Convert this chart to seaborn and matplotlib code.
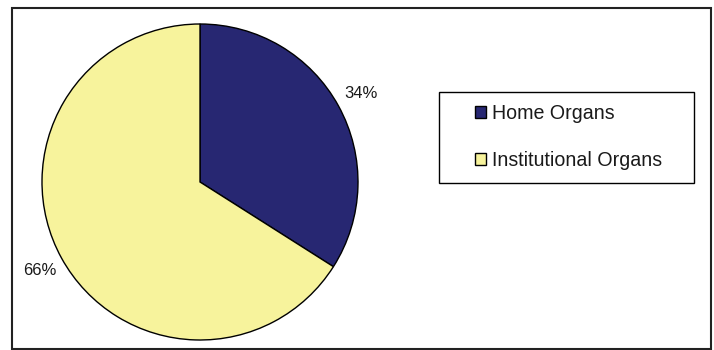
import matplotlib
matplotlib.use("Agg")
import matplotlib.pyplot as plt
from matplotlib.patches import Rectangle
import seaborn as sns

# Organ share data
categories = ["Home Organs", "Institutional Organs"]
shares = [34, 66]
slice_colors = ["#272772", "#F7F39C"]

sns.set_theme(style="white")
plt.rcParams["font.family"] = ["Liberation Sans", "DejaVu Sans"]

W, H = 714, 350
fig = plt.figure(figsize=(W / 100, H / 100), dpi=100)
fig.patch.set_facecolor("white")

# Pie axes: centre (200, 182) px from top-left, radius 158 px
cx, cy, r = 200, 182, 158
ax = fig.add_axes([(cx - r) / W, (H - cy - r) / H, 2 * r / W, 2 * r / H])
palette = sns.color_palette(slice_colors)
wedges, _, autotexts = ax.pie(
    shares,
    colors=palette,
    startangle=90,
    counterclock=False,
    autopct=lambda p: f"{p:.0f}%",
    pctdistance=1.16,
    wedgeprops=dict(edgecolor="black", linewidth=1.0),
    textprops=dict(fontsize=12, color="#1a1a1a"),
)
ax.set_aspect("equal")
ax.set_xlim(-1, 1)
ax.set_ylim(-1, 1)
ax.axis("off")

# Legend frame
lx0, lx1, ly0, ly1 = 439, 694, 92, 183
fig.patches.append(Rectangle((lx0 / W, 1 - ly1 / H), (lx1 - lx0) / W, (ly1 - ly0) / H,
                             transform=fig.transFigure, fill=False,
                             edgecolor="black", linewidth=1.0))

leg = fig.legend(
    wedges, categories,
    loc="center left",
    bbox_to_anchor=(475 / W, 1 - 137 / H),
    frameon=False,
    borderpad=0,
    borderaxespad=0,
    fontsize=14.1,
    handlelength=0.56,
    handleheight=0.56,
    handletextpad=0.3,
    labelspacing=1.4,
)
for t in leg.get_texts():
    t.set_color("#1a1a1a")

# Outer chart border
fig.patches.append(Rectangle((12 / W, 1 - 349 / H), (711 - 12) / W, (349 - 8) / H,
                             transform=fig.transFigure, fill=False,
                             edgecolor="#222222", linewidth=1.5))

fig.savefig("out.png", dpi=100, facecolor="white")
